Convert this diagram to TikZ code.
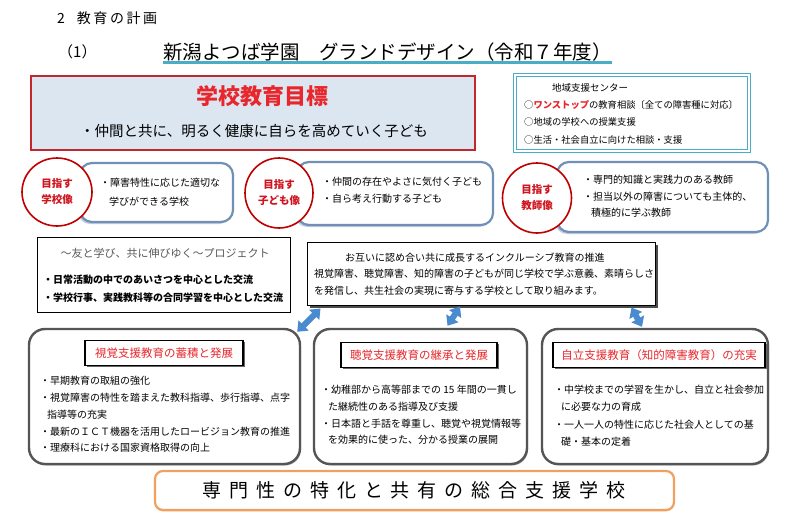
\documentclass[tikz,border=0pt]{standalone}
\usepackage{fontspec}
\setmainfont{Noto Sans CJK JP}
\usepackage{tikz}
\usetikzlibrary{arrows.meta,positioning,shapes.geometric,shadows}

\definecolor{goalred}{HTML}{C0282D}
\definecolor{goalfill}{HTML}{DCE6F1}
\definecolor{titlered}{HTML}{E8262B}
\definecolor{cyanline}{HTML}{4BACC6}
\definecolor{aimred}{HTML}{C00000}
\definecolor{aimtext}{HTML}{D0141E}
\definecolor{aimblue}{HTML}{7090B8}
\definecolor{pillargray}{HTML}{555555}
\definecolor{arrowblue}{HTML}{4A8AD0}
\definecolor{bannerorange}{HTML}{F0A060}

\tikzset{
  fsz/.style={font=\fontsize{#1}{17}\selectfont},
  lines/.style={align=left,inner sep=0pt,anchor=north west,
                font=\fontsize{10}{#1}\selectfont},
  lines/.default=17
}

\begin{document}
\begin{tikzpicture}[x=1pt,y=-1pt,
    goalbox/.style={draw=goalred,line width=1.6pt,fill=goalfill,
                    minimum width=444pt,minimum height=74pt},
    centerbox/.style={draw=cyanline,double=white,double distance=1.6pt,
                      line width=1.2pt,fill=white,
                      minimum width=234pt,minimum height=76pt},
    aimcircle/.style={ellipse,draw=aimred,line width=1.6pt,fill=white,
                      text=aimtext,align=center,inner sep=0pt,
                      font=\fontsize{10.5}{16}\selectfont\bfseries},
    aimbox/.style={draw=aimblue,line width=2.2pt,rounded corners=12pt,fill=white,
                   drop shadow={shadow xshift=-2pt,shadow yshift=-2pt,
                                fill=aimblue!45,opacity=1}},
    plainbox/.style={draw=black,line width=1pt,fill=white},
    pillarbox/.style={draw=pillargray,line width=2.4pt,rounded corners=16pt,
                      fill=white,minimum height=135pt,
                      drop shadow={shadow xshift=1pt,shadow yshift=-1.5pt,
                                   fill=black!35,opacity=1}},
    pillartitle/.style={draw=black,line width=1.6pt,fill=white,text=titlered,
                        minimum height=25pt,font=\fontsize{11.5}{14}\selectfont,
                        drop shadow={shadow xshift=1.5pt,shadow yshift=-1.5pt,
                                     fill=black!60,opacity=1}},
    link/.style={{Triangle[width=14pt,length=9pt]}-{Triangle[width=14pt,length=9pt]},
                 line width=6pt,draw=arrowblue},
    banner/.style={draw=bannerorange,line width=2.2pt,rounded corners=8pt,fill=white,
                   minimum width=519pt,minimum height=39pt,
                   drop shadow={shadow xshift=0pt,shadow yshift=-1.5pt,
                                fill=bannerorange!40,opacity=1}}]

  \fill[white] (0,0) rectangle (800,522);
  \useasboundingbox (0,0) rectangle (800,522);

  % headings
  \node[anchor=west,inner sep=0pt,font=\fontsize{14}{16}\selectfont\addfontfeature{LetterSpace=18}]
       (sect) at (57,18) {2\hspace{12pt}教育の計画};
  \node[anchor=west,inner sep=0pt,fsz=15] (num) at (58,52) {（1）};
  \node[anchor=west,inner sep=0pt,fsz=19.5] (ttl) at (163,52)
       {新潟よつば学園　グランドデザイン（令和７年度）};
  \draw[cyanline,line width=2.6pt] ([yshift=-1pt]ttl.south west) -- ([yshift=-1pt]ttl.south east);

  % school goal
  \node[goalbox] (goal) at (253,113) {};
  \node[text=titlered,font=\fontsize{22}{24}\selectfont\bfseries] (goalttl) at (262,96) {学校教育目標};
  \node[fsz=14.5] (goaltxt) at (254,131) {・仲間と共に、明るく健康に自らを高めていく子ども};

  % regional support centre
  \node[centerbox] (center) at (632,113) {};
  \node[fsz=9.5] (centerttl) at (590,88) {地域支援センター};
  \node[lines,font=\fontsize{9.3}{17.5}\selectfont] (centertxt) at (524,100)
       {○{\color{titlered}\bfseries ワンストップ}の教育相談〔全ての障害種に対応〕\\
        ○地域の学校への授業支援\\
        ○生活・社会自立に向けた相談・支援};

  % aims
  \node[aimbox,minimum width=153pt,minimum height=59pt] (aimA) at (156.5,192.5) {};
  \node[aimbox,minimum width=196pt,minimum height=63pt] (aimB) at (395,193.5) {};
  \node[aimbox,minimum width=211pt,minimum height=70pt] (aimC) at (662.5,197) {};
  \node[aimcircle,minimum width=70pt,minimum height=68pt] (circA) at (57,192) {目指す\\学校像};
  \node[aimcircle,minimum width=68pt,minimum height=70pt] (circB) at (279,193) {目指す\\子ども像};
  \node[aimcircle,minimum width=69pt,minimum height=70pt] (circC) at (537,198) {目指す\\教師像};
  \node[lines=19] (aimAtxt) at (100,178)
       {・障害特性に応じた適切な\\\hspace*{9pt}学びができる学校};
  \node[lines=16.5] (aimBtxt) at (322,177)
       {・仲間の存在やよさに気付く子ども\\・自ら考え行動する子ども};
  \node[lines=16.5] (aimCtxt) at (583,175)
       {・専門的知識と実践力のある教師\\・担当以外の障害についても主体的、\\\hspace*{8pt}積極的に学ぶ教師};

  % project and inclusive education
  \node[plainbox,minimum width=253pt,minimum height=75pt] (proj) at (163.5,274.5) {};
  \node[text=black!65,fsz=11] (projttl) at (165,253) {～友と学び、共に伸びゆく～プロジェクト};
  \node[lines=18,font=\fontsize{10}{18}\selectfont\bfseries] (projtxt) at (43,275)
       {・日常活動の中でのあいさつを中心とした交流\\・学校行事、実践教科等の合同学習を中心とした交流};
  \node[plainbox,minimum width=348pt,minimum height=63pt,
        drop shadow={shadow xshift=2.5pt,shadow yshift=-2.5pt,fill=black!70,opacity=1}]
       (incl) at (481,273.5) {};
  \node[anchor=west,inner sep=0pt,fsz=10] (inclttl) at (345,258)
       {お互いに認め合い共に成長するインクルーシブ教育の推進};
  \node[lines=16.5] (incltxt) at (314,269)
       {視覚障害、聴覚障害、知的障害の子どもが同じ学校で学ぶ意義、素晴らしさ\\
        を発信し、共生社会の実現に寄与する学校として取り組みます。};

  % three pillars
  \node[pillarbox,minimum width=271pt] (visA) at (164.5,396.5) {};
  \node[pillarbox,minimum width=213pt] (visB) at (420.5,396.5) {};
  \node[pillarbox,minimum width=226pt] (visC) at (655,396.5) {};
  \node[pillartitle,minimum width=158pt] (visAttl) at (164,353) {視覚支援教育の蓄積と発展};
  \node[pillartitle,minimum width=156pt] (visBttl) at (419,355) {聴覚支援教育の継承と発展};
  \node[pillartitle,minimum width=212pt] (visCttl) at (659,355) {自立支援教育（知的障害教育）の充実};
  \node[lines=16.8] (visAtxt) at (40,376)
       {・早期教育の取組の強化\\
        ・視覚障害の特性を踏まえた教科指導、歩行指導、点字\\
        \hspace*{7pt}指導等の充実\\
        ・最新のＩＣＴ機器を活用したロービジョン教育の推進\\
        ・理療科における国家資格取得の向上};
  \node[lines=16.7] (visBtxt) at (321,385)
       {・幼稚部から高等部までの 15 年間の一貫し\\
        \hspace*{7pt}た継続性のある指導及び支援\\
        ・日本語と手話を尊重し、聴覚や視覚情報等\\
        \hspace*{7pt}を効果的に使った、分かる授業の展開};
  \node[lines=17.3] (visCtxt) at (554,385)
       {・中学校までの学習を生かし、自立と社会参加\\
        \hspace*{7pt}に必要な力の育成\\
        ・一人一人の特性に応じた社会人としての基\\
        \hspace*{7pt}礎・基本の定着};

  \draw[link] ([xshift=14pt,yshift=-3pt]incl.south west) -- ([xshift=-4pt,yshift=-4pt]visA.north east);
  \draw[link] ([xshift=-21pt,yshift=-1pt]incl.south) -- ([xshift=27pt,yshift=2pt]visB.north);
  \draw[link] ([xshift=-24pt,yshift=-2pt]incl.south east) -- ([xshift=-13pt,yshift=1pt]visC.north);

  % banner
  \node[banner] (base) at (414.5,490.5) {};
  \node[font=\fontsize{19}{22}\selectfont\addfontfeature{LetterSpace=42}] (basetxt) at (414,490)
       {専門性の特化と共有の総合支援学校};
\end{tikzpicture}
\end{document}
